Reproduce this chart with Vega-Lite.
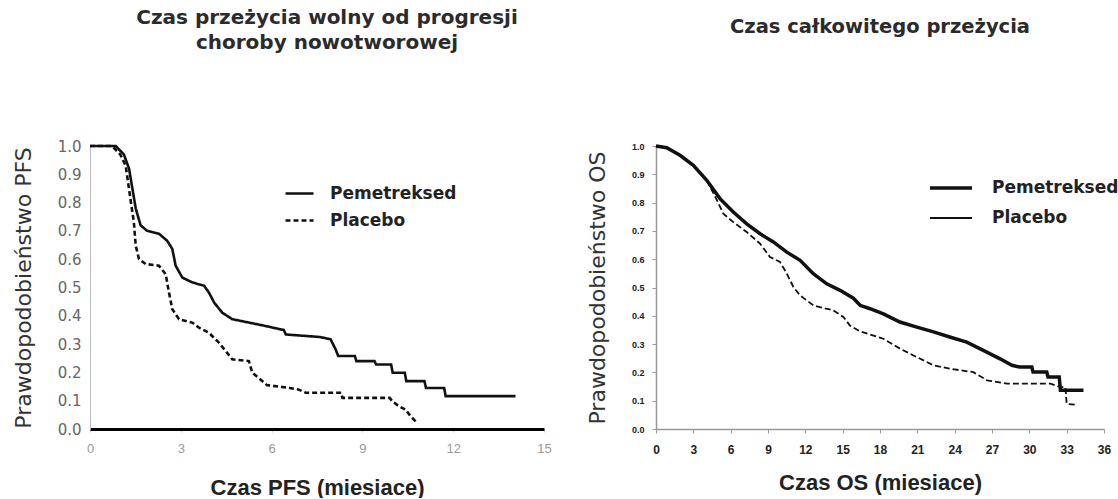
{
  "$schema": "https://vega.github.io/schema/vega-lite/v6.json",
  "padding": {"left": 12, "top": 8, "right": 4, "bottom": 0},
  "background": "white",
  "spacing": 34,
  "config": {"view": {"stroke": null}, "axis": {"grid": false}},
  "resolve": {
    "scale": {"strokeDash": "independent", "strokeWidth": "independent"},
    "legend": {"strokeDash": "independent", "strokeWidth": "independent"}
  },
  "datasets": {
    "pfs": [
      {"t": 0, "s": 1.0, "g": "Pemetreksed"},
      {"t": 0.85, "s": 1.0, "g": "Pemetreksed"},
      {"t": 1.12, "s": 0.97, "g": "Pemetreksed"},
      {"t": 1.29, "s": 0.92, "g": "Pemetreksed"},
      {"t": 1.40, "s": 0.85, "g": "Pemetreksed"},
      {"t": 1.51, "s": 0.78, "g": "Pemetreksed"},
      {"t": 1.67, "s": 0.72, "g": "Pemetreksed"},
      {"t": 1.89, "s": 0.70, "g": "Pemetreksed"},
      {"t": 2.28, "s": 0.69, "g": "Pemetreksed"},
      {"t": 2.55, "s": 0.665, "g": "Pemetreksed"},
      {"t": 2.72, "s": 0.636, "g": "Pemetreksed"},
      {"t": 2.83, "s": 0.577, "g": "Pemetreksed"},
      {"t": 3.05, "s": 0.535, "g": "Pemetreksed"},
      {"t": 3.38, "s": 0.518, "g": "Pemetreksed"},
      {"t": 3.77, "s": 0.506, "g": "Pemetreksed"},
      {"t": 3.93, "s": 0.482, "g": "Pemetreksed"},
      {"t": 4.10, "s": 0.447, "g": "Pemetreksed"},
      {"t": 4.37, "s": 0.411, "g": "Pemetreksed"},
      {"t": 4.70, "s": 0.388, "g": "Pemetreksed"},
      {"t": 5.25, "s": 0.376, "g": "Pemetreksed"},
      {"t": 5.80, "s": 0.364, "g": "Pemetreksed"},
      {"t": 6.30, "s": 0.352, "g": "Pemetreksed"},
      {"t": 6.40, "s": 0.350, "g": "Pemetreksed"},
      {"t": 6.47, "s": 0.334, "g": "Pemetreksed"},
      {"t": 7.60, "s": 0.325, "g": "Pemetreksed"},
      {"t": 7.95, "s": 0.317, "g": "Pemetreksed"},
      {"t": 8.12, "s": 0.28, "g": "Pemetreksed"},
      {"t": 8.20, "s": 0.258, "g": "Pemetreksed"},
      {"t": 8.75, "s": 0.258, "g": "Pemetreksed"},
      {"t": 8.80, "s": 0.24, "g": "Pemetreksed"},
      {"t": 9.40, "s": 0.24, "g": "Pemetreksed"},
      {"t": 9.45, "s": 0.228, "g": "Pemetreksed"},
      {"t": 9.95, "s": 0.228, "g": "Pemetreksed"},
      {"t": 10.0, "s": 0.199, "g": "Pemetreksed"},
      {"t": 10.40, "s": 0.199, "g": "Pemetreksed"},
      {"t": 10.45, "s": 0.169, "g": "Pemetreksed"},
      {"t": 11.05, "s": 0.169, "g": "Pemetreksed"},
      {"t": 11.10, "s": 0.145, "g": "Pemetreksed"},
      {"t": 11.70, "s": 0.145, "g": "Pemetreksed"},
      {"t": 11.75, "s": 0.116, "g": "Pemetreksed"},
      {"t": 14.06, "s": 0.116, "g": "Pemetreksed"},
      {"t": 0, "s": 1.0, "g": "Placebo"},
      {"t": 0.73, "s": 1.0, "g": "Placebo"},
      {"t": 1.0, "s": 0.97, "g": "Placebo"},
      {"t": 1.18, "s": 0.93, "g": "Placebo"},
      {"t": 1.34, "s": 0.81, "g": "Placebo"},
      {"t": 1.45, "s": 0.73, "g": "Placebo"},
      {"t": 1.51, "s": 0.648, "g": "Placebo"},
      {"t": 1.62, "s": 0.60, "g": "Placebo"},
      {"t": 1.84, "s": 0.583, "g": "Placebo"},
      {"t": 2.28, "s": 0.577, "g": "Placebo"},
      {"t": 2.50, "s": 0.547, "g": "Placebo"},
      {"t": 2.61, "s": 0.482, "g": "Placebo"},
      {"t": 2.72, "s": 0.423, "g": "Placebo"},
      {"t": 2.94, "s": 0.388, "g": "Placebo"},
      {"t": 3.38, "s": 0.376, "g": "Placebo"},
      {"t": 3.60, "s": 0.358, "g": "Placebo"},
      {"t": 3.93, "s": 0.34, "g": "Placebo"},
      {"t": 4.26, "s": 0.305, "g": "Placebo"},
      {"t": 4.48, "s": 0.276, "g": "Placebo"},
      {"t": 4.70, "s": 0.246, "g": "Placebo"},
      {"t": 5.25, "s": 0.24, "g": "Placebo"},
      {"t": 5.36, "s": 0.199, "g": "Placebo"},
      {"t": 5.60, "s": 0.178, "g": "Placebo"},
      {"t": 5.85, "s": 0.155, "g": "Placebo"},
      {"t": 6.60, "s": 0.145, "g": "Placebo"},
      {"t": 6.90, "s": 0.139, "g": "Placebo"},
      {"t": 7.13, "s": 0.128, "g": "Placebo"},
      {"t": 8.30, "s": 0.128, "g": "Placebo"},
      {"t": 8.34, "s": 0.11, "g": "Placebo"},
      {"t": 9.90, "s": 0.11, "g": "Placebo"},
      {"t": 9.99, "s": 0.098, "g": "Placebo"},
      {"t": 10.21, "s": 0.08, "g": "Placebo"},
      {"t": 10.43, "s": 0.068, "g": "Placebo"},
      {"t": 10.59, "s": 0.045, "g": "Placebo"},
      {"t": 10.76, "s": 0.027, "g": "Placebo"}
    ],
    "os": [
      {"t": 0, "s": 1.0, "g": "Pemetreksed"},
      {"t": 0.86, "s": 0.994, "g": "Pemetreksed"},
      {"t": 1.93, "s": 0.967, "g": "Pemetreksed"},
      {"t": 3.0, "s": 0.932, "g": "Pemetreksed"},
      {"t": 4.08, "s": 0.879, "g": "Pemetreksed"},
      {"t": 5.14, "s": 0.814, "g": "Pemetreksed"},
      {"t": 6.21, "s": 0.767, "g": "Pemetreksed"},
      {"t": 7.29, "s": 0.725, "g": "Pemetreksed"},
      {"t": 8.36, "s": 0.69, "g": "Pemetreksed"},
      {"t": 9.43, "s": 0.661, "g": "Pemetreksed"},
      {"t": 10.51, "s": 0.625, "g": "Pemetreksed"},
      {"t": 11.58, "s": 0.596, "g": "Pemetreksed"},
      {"t": 12.64, "s": 0.549, "g": "Pemetreksed"},
      {"t": 13.72, "s": 0.513, "g": "Pemetreksed"},
      {"t": 14.79, "s": 0.49, "g": "Pemetreksed"},
      {"t": 15.86, "s": 0.462, "g": "Pemetreksed"},
      {"t": 16.4, "s": 0.437, "g": "Pemetreksed"},
      {"t": 17.2, "s": 0.425, "g": "Pemetreksed"},
      {"t": 18.27, "s": 0.407, "g": "Pemetreksed"},
      {"t": 19.6, "s": 0.378, "g": "Pemetreksed"},
      {"t": 20.96, "s": 0.36, "g": "Pemetreksed"},
      {"t": 22.3, "s": 0.343, "g": "Pemetreksed"},
      {"t": 23.6, "s": 0.325, "g": "Pemetreksed"},
      {"t": 24.97, "s": 0.307, "g": "Pemetreksed"},
      {"t": 26.3, "s": 0.278, "g": "Pemetreksed"},
      {"t": 27.65, "s": 0.248, "g": "Pemetreksed"},
      {"t": 28.6, "s": 0.225, "g": "Pemetreksed"},
      {"t": 29.2, "s": 0.219, "g": "Pemetreksed"},
      {"t": 30.2, "s": 0.219, "g": "Pemetreksed"},
      {"t": 30.3, "s": 0.201, "g": "Pemetreksed"},
      {"t": 31.4, "s": 0.201, "g": "Pemetreksed"},
      {"t": 31.5, "s": 0.184, "g": "Pemetreksed"},
      {"t": 32.4, "s": 0.184, "g": "Pemetreksed"},
      {"t": 32.5, "s": 0.137, "g": "Pemetreksed"},
      {"t": 34.35, "s": 0.137, "g": "Pemetreksed"},
      {"t": 0, "s": 1.0, "g": "Placebo"},
      {"t": 0.86, "s": 0.994, "g": "Placebo"},
      {"t": 1.93, "s": 0.967, "g": "Placebo"},
      {"t": 3.0, "s": 0.932, "g": "Placebo"},
      {"t": 4.08, "s": 0.879, "g": "Placebo"},
      {"t": 4.88, "s": 0.81, "g": "Placebo"},
      {"t": 5.41, "s": 0.761, "g": "Placebo"},
      {"t": 6.21, "s": 0.731, "g": "Placebo"},
      {"t": 7.29, "s": 0.696, "g": "Placebo"},
      {"t": 8.36, "s": 0.655, "g": "Placebo"},
      {"t": 9.16, "s": 0.608, "g": "Placebo"},
      {"t": 9.97, "s": 0.59, "g": "Placebo"},
      {"t": 10.51, "s": 0.549, "g": "Placebo"},
      {"t": 11.04, "s": 0.502, "g": "Placebo"},
      {"t": 11.58, "s": 0.472, "g": "Placebo"},
      {"t": 12.64, "s": 0.437, "g": "Placebo"},
      {"t": 14.25, "s": 0.419, "g": "Placebo"},
      {"t": 15.06, "s": 0.396, "g": "Placebo"},
      {"t": 15.6, "s": 0.365, "g": "Placebo"},
      {"t": 16.4, "s": 0.345, "g": "Placebo"},
      {"t": 18.27, "s": 0.319, "g": "Placebo"},
      {"t": 19.6, "s": 0.284, "g": "Placebo"},
      {"t": 20.96, "s": 0.254, "g": "Placebo"},
      {"t": 22.3, "s": 0.225, "g": "Placebo"},
      {"t": 23.6, "s": 0.213, "g": "Placebo"},
      {"t": 25.5, "s": 0.201, "g": "Placebo"},
      {"t": 26.6, "s": 0.172, "g": "Placebo"},
      {"t": 28.2, "s": 0.16, "g": "Placebo"},
      {"t": 31.7, "s": 0.16, "g": "Placebo"},
      {"t": 32.5, "s": 0.148, "g": "Placebo"},
      {"t": 32.9, "s": 0.148, "g": "Placebo"},
      {"t": 33.0, "s": 0.089, "g": "Placebo"},
      {"t": 33.8, "s": 0.085, "g": "Placebo"}
    ]
  },
  "hconcat": [
    {
      "width": 454,
      "height": 283,
      "title": {
        "text": ["Czas przeżycia wolny od progresji", "choroby nowotworowej"],
        "font": "DejaVu Sans", "fontSize": 20, "fontWeight": "bold", "color": "#2b2b2b",
        "lineHeight": 25, "offset": 86, "anchor": "middle", "frame": "group", "dx": 10
      },
      "data": {"name": "pfs"},
      "mark": {"type": "line", "strokeWidth": 2.6, "color": "#111"},
      "encoding": {
        "x": {
          "field": "t", "type": "quantitative",
          "scale": {"domain": [0, 15], "nice": false},
          "axis": {
            "values": [0, 3, 6, 9, 12, 15],
            "title": "Czas PFS (miesiace)",
            "titleFont": "Liberation Sans", "titleFontSize": 22, "titleFontWeight": "bold", "titleColor": "#222",
            "titlePadding": 22,
            "labelFont": "Liberation Sans", "labelFontSize": 13, "labelColor": "#999", "labelPadding": 10,
            "labelFlush": false,
            "tickSize": 3, "tickColor": "#ccc",
            "domainColor": "#000", "domainWidth": 3
          }
        },
        "y": {
          "field": "s", "type": "quantitative",
          "scale": {"domain": [0, 1], "nice": false},
          "axis": {
            "values": [0, 0.1, 0.2, 0.3, 0.4, 0.5, 0.6, 0.7, 0.8, 0.9, 1.0],
            "format": ".1f",
            "title": "Prawdopodobieństwo PFS",
            "titleFont": "DejaVu Sans", "titleFontSize": 22, "titleFontWeight": "normal", "titleColor": "#333",
            "titlePadding": 22,
            "labelFont": "DejaVu Sans", "labelFontSize": 15, "labelColor": "#666", "labelPadding": 9,
            "ticks": false,
            "domainColor": "#bbb", "domainWidth": 1
          }
        },
        "strokeDash": {
          "field": "g", "type": "nominal",
          "scale": {"domain": ["Pemetreksed", "Placebo"], "range": [[1, 0], [5, 3]]},
          "legend": {
            "orient": "none", "legendX": 194, "legendY": 32, "title": null,
            "symbolType": "stroke", "symbolSize": 784, "symbolStrokeWidth": 2.5, "symbolStrokeColor": "#111",
            "labelFont": "DejaVu Sans", "labelFontSize": 17, "labelFontWeight": "bold", "labelColor": "#222",
            "labelOffset": 15, "rowPadding": 3
          }
        }
      }
    },
    {
      "width": 448,
      "height": 283,
      "title": {
        "text": "Czas całkowitego przeżycia",
        "font": "DejaVu Sans", "fontSize": 19.5, "fontWeight": "bold", "color": "#2b2b2b",
        "offset": 102, "anchor": "middle", "frame": "group"
      },
      "data": {"name": "os"},
      "encoding": {
        "x": {
          "field": "t", "type": "quantitative",
          "scale": {"domain": [0, 36], "nice": false},
          "axis": {
            "values": [0, 3, 6, 9, 12, 15, 18, 21, 24, 27, 30, 33, 36],
            "title": "Czas OS (miesiace)",
            "titleFont": "Liberation Sans", "titleFontSize": 22, "titleFontWeight": "bold", "titleColor": "#222",
            "titlePadding": 17,
            "labelFont": "Liberation Sans", "labelFontSize": 12, "labelFontWeight": "bold", "labelColor": "#222",
            "labelPadding": 11, "labelFlush": false,
            "tickSize": 4, "tickColor": "#999",
            "domainColor": "#999", "domainWidth": 1.5
          }
        },
        "y": {
          "field": "s", "type": "quantitative",
          "scale": {"domain": [0, 1], "nice": false},
          "axis": {
            "values": [0, 0.1, 0.2, 0.3, 0.4, 0.5, 0.6, 0.7, 0.8, 0.9, 1.0],
            "format": ".1f",
            "title": "Prawdopodobieństwo OS",
            "titleFont": "DejaVu Sans", "titleFontSize": 22, "titleFontWeight": "normal", "titleColor": "#333",
            "titlePadding": 22,
            "labelFont": "Liberation Sans", "labelFontSize": 9, "labelFontWeight": "bold", "labelColor": "#222",
            "labelPadding": 8,
            "tickSize": 4, "tickColor": "#999",
            "domainColor": "#999", "domainWidth": 1.5
          }
        },
        "strokeWidth": {
          "field": "g", "type": "ordinal",
          "scale": {"domain": ["Pemetreksed", "Placebo"], "range": [3.5, 1.8]},
          "legend": {
            "orient": "none", "legendX": 272, "legendY": 19, "title": null,
            "symbolType": "stroke", "symbolSize": 1764, "symbolStrokeColor": "#111",
            "labelFont": "DejaVu Sans", "labelFontSize": 17, "labelFontWeight": "bold", "labelColor": "#222",
            "labelOffset": 18, "rowPadding": -4
          }
        }
      },
      "layer": [
        {
          "transform": [{"filter": "datum.g === 'Pemetreksed'"}],
          "mark": {"type": "line", "color": "#111"}
        },
        {
          "transform": [{"filter": "datum.g === 'Placebo'"}],
          "mark": {"type": "line", "color": "#111", "strokeDash": [6, 3]}
        }
      ]
    }
  ]
}
